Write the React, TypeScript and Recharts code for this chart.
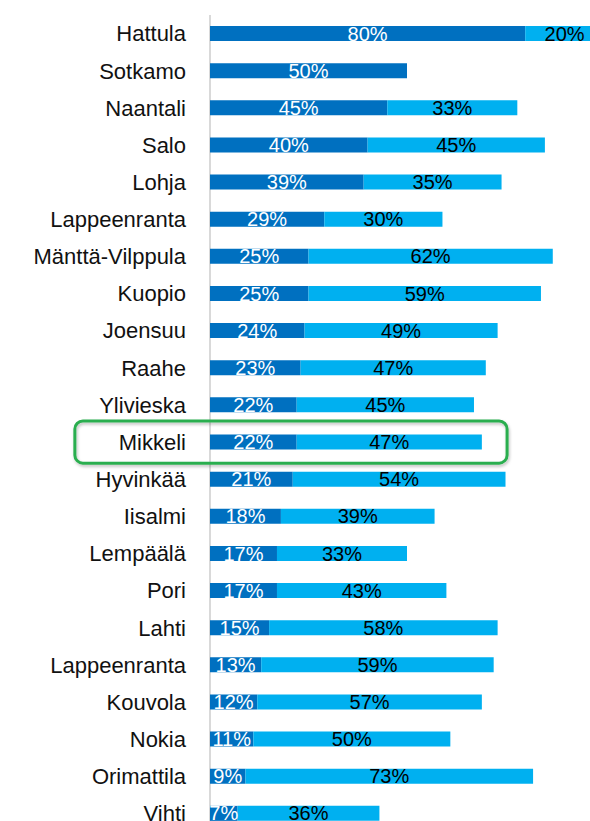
import React from 'react';
import { BarChart, Bar, XAxis, YAxis, CartesianGrid, LabelList, ReferenceArea } from 'recharts';

const categories = [
  'Hattula', 'Sotkamo', 'Naantali', 'Salo', 'Lohja', 'Lappeenranta', 'Mänttä-Vilppula',
  'Kuopio', 'Joensuu', 'Raahe', 'Ylivieska', 'Mikkeli', 'Hyvinkää', 'Iisalmi', 'Lempäälä',
  'Pori', 'Lahti', 'Lappeenranta', 'Kouvola', 'Nokia', 'Orimattila', 'Vihti',
];
const darkValues = [80, 50, 45, 40, 39, 29, 25, 25, 24, 23, 22, 22, 21, 18, 17, 17, 15, 13, 12, 11, 9, 7];
const lightValues: (number | null)[] = [20, null, 33, 45, 35, 30, 62, 59, 49, 47, 45, 47, 54, 39, 33, 43, 58, 59, 57, 50, 73, 36];
const xTicks = [0, 50, 100];
const highlighted = 'Mikkeli';

const data = categories.map((name, i) => ({
  id: `${i}-${name}`,
  name,
  dark: darkValues[i],
  light: lightValues[i],
}));
const highlightId = data.find((d) => d.name === highlighted)!.id;

const FONT = 'Liberation Sans';
const fmt = (v: any) => (v ? `${v}%` : '');

const HighlightBox = (p: any) => (
  <g>
    <defs>
      <filter id="hlShadow" x="-5%" y="-30%" width="110%" height="160%">
        <feDropShadow dx="1" dy="2" stdDeviation="1.5" floodColor="#000" floodOpacity="0.25" />
      </filter>
    </defs>
    <rect
      x={p.x}
      y={p.y - 2.5}
      width={p.width}
      height={p.height + 5}
      rx={8}
      ry={8}
      fill="none"
      stroke="#2BAE4F"
      strokeWidth={3}
      filter="url(#hlShadow)"
    />
  </g>
);

export default function App() {
  return (
    <div
      style={{
        position: 'fixed',
        left: 0,
        top: 0,
        width: 590,
        height: 821,
        overflow: 'hidden',
        background: '#fff',
      }}
    >
      <BarChart
        width={620}
        height={832}
        data={data}
        layout="vertical"
        margin={{ top: 15, right: 16, bottom: 0, left: 0 }}
        barSize={15}
      >
        <CartesianGrid horizontal={false} vertical stroke="#D9D9D9" strokeWidth={2} />
        <XAxis
          type="number"
          domain={[0, 100]}
          ticks={xTicks}
          axisLine={false}
          tickLine={false}
          tick={false}
          height={0}
        />
        <YAxis
          type="category"
          dataKey="id"
          width={210}
          axisLine={false}
          tickLine={false}
          tickSize={0}
          tickMargin={24}
          interval={0}
          tickFormatter={(v: string) => v.replace(/^\d+-/, '')}
          tick={{ fill: '#111', fontSize: 22, fontFamily: FONT }}
        />
        <Bar dataKey="dark" stackId="s" fill="#0070C0" isAnimationActive={false}>
          <LabelList dataKey="dark" position="center" formatter={fmt} fill="#fff" fontSize={20} fontFamily={FONT} />
        </Bar>
        <Bar dataKey="light" stackId="s" fill="#00B0F0" isAnimationActive={false}>
          <LabelList dataKey="light" position="center" formatter={fmt} fill="#000" fontSize={20} fontFamily={FONT} />
        </Bar>
        <ReferenceArea
          y1={highlightId}
          y2={highlightId}
          x1={-34.3}
          x2={75.4}
          ifOverflow="visible"
          shape={HighlightBox}
        />
      </BarChart>
    </div>
  );
}
